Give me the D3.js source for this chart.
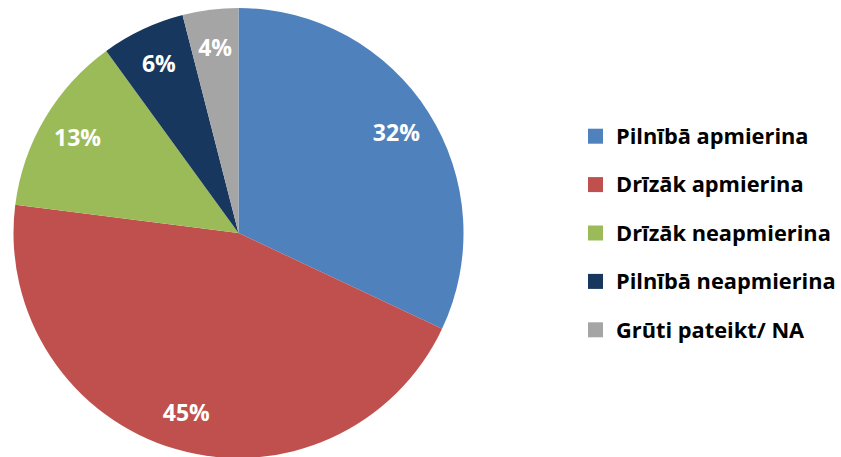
<!DOCTYPE html>
<html><head><meta charset="utf-8">
<script src="https://cdn.jsdelivr.net/npm/d3@7"></script>
<style>body{margin:0;background:#fff}svg{display:block}</style>
</head><body>
<svg id="c" width="841" height="457"></svg>
<script>
const categories = ["Pilnībā apmierina","Drīzāk apmierina","Drīzāk neapmierina","Pilnībā neapmierina","Grūti pateikt/ NA"];
const values = [32,45,13,6,4];
const colors = ["#4F81BD","#C0504D","#9BBB59","#17375E","#A5A5A5"];

const svg = d3.select("#c");
const cx = 238.5, cy = 233, R = 225;
const data = categories.map((c,i)=>({c, v:values[i], col:colors[i]}));
const pie = d3.pie().value(d=>d.v).sort(null);
const arcs = pie(data);
const arc = d3.arc().innerRadius(0).outerRadius(R);
const labelArc = d3.arc().innerRadius(187).outerRadius(187);
const g = svg.append("g").attr("transform",`translate(${cx},${cy})`);
g.selectAll("path").data(arcs).enter().append("path")
  .attr("d",arc).attr("fill",d=>d.data.col);
g.selectAll("text").data(arcs).enter().append("text")
  .attr("transform",d=>`translate(${labelArc.centroid(d)})`)
  .attr("text-anchor","middle").attr("dy","0.36em")
  .attr("font-family","Open Sans").attr("font-weight","bold").attr("font-size",23)
  .attr("fill","#fff").text(d=>d.data.v+"%");

const y = d3.scaleBand().domain(categories).range([112,354]);
const lg = svg.append("g");
const items = lg.selectAll("g").data(categories).enter().append("g")
  .attr("transform",d=>`translate(0,${y(d)+y.bandwidth()/2})`);
items.append("rect").attr("x",588).attr("y",-7.5).attr("width",15).attr("height",15)
  .attr("fill",(d,i)=>colors[i]);
items.append("text").attr("x",616).attr("dy","0.36em")
  .attr("font-family","Open Sans").attr("font-weight","bold").attr("font-size",21.8)
  .attr("fill","#000").text(d=>d);
</script>
</body></html>
